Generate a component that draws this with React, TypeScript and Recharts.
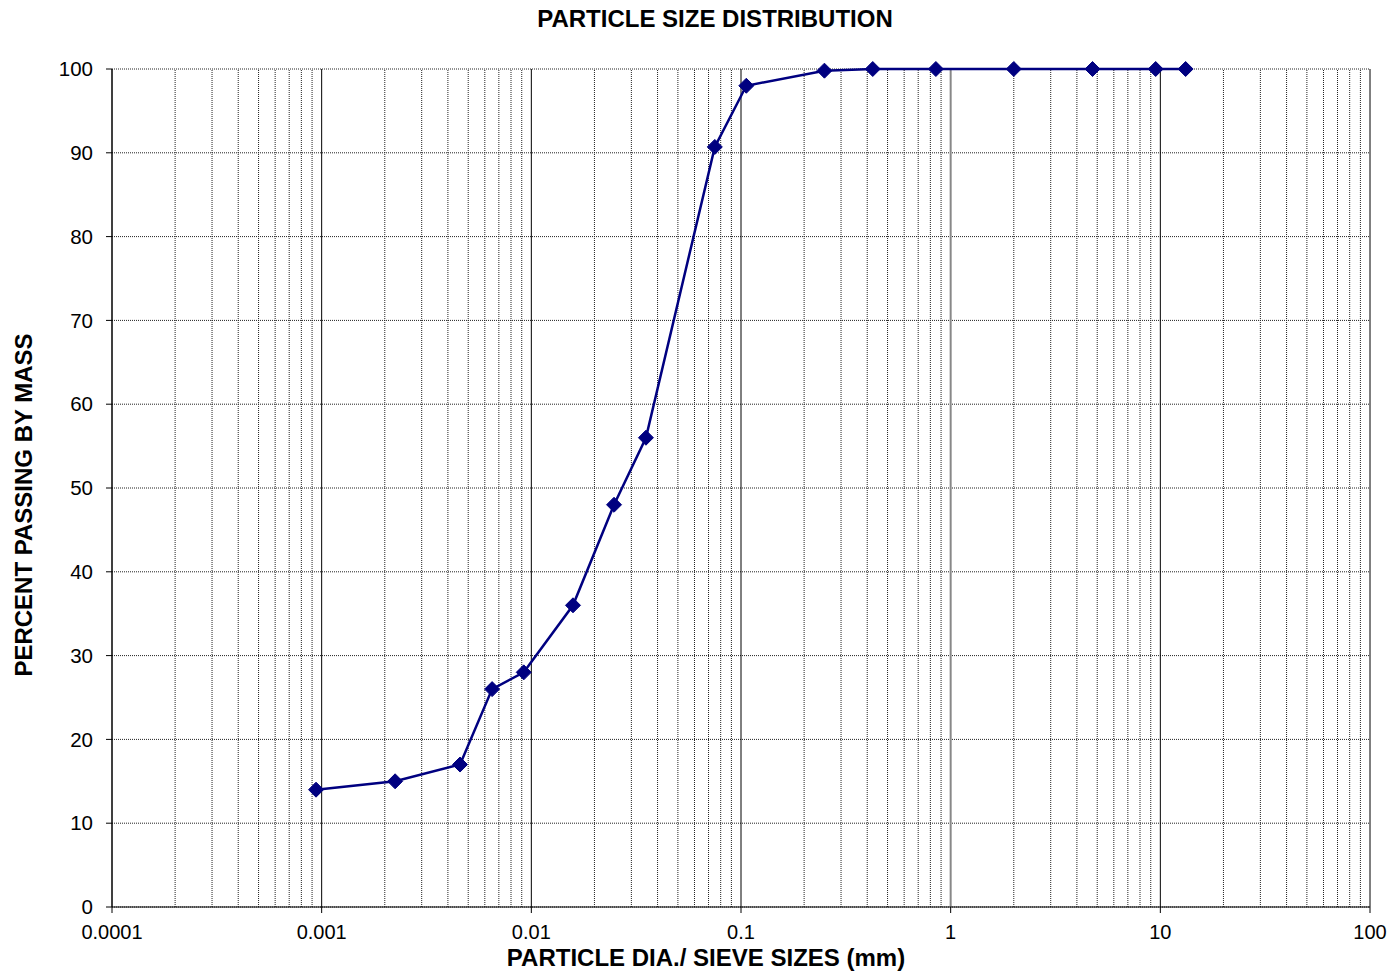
import React from 'react';
import {
  LineChart,
  Line,
  XAxis,
  YAxis,
  CartesianGrid,
  ReferenceLine,
} from 'recharts';

// particle diameter (mm) and percent passing
const sizes = [
  0.00094, 0.00224, 0.00457, 0.0065, 0.0092, 0.0158, 0.0248, 0.0352, 0.075,
  0.106, 0.25, 0.425, 0.85, 2.0, 4.75, 9.5, 13.2,
];
const passing = [14, 15, 17, 26, 28, 36, 48, 56, 90.7, 98, 99.8, 100, 100, 100, 100, 100, 100];

const xTicks = [0.0001, 0.001, 0.01, 0.1, 1, 10, 100];
const yTicks = [0, 10, 20, 30, 40, 50, 60, 70, 80, 90, 100];
const minorMults = [2, 3, 4, 5, 6, 7, 8, 9];

const data = sizes.map((s, i) => ({ size: s, pass: passing[i] }));

const minorLines: number[] = [];
xTicks.slice(0, -1).forEach((d) => minorMults.forEach((m) => minorLines.push(+(d * m).toPrecision(3))));

const fmtX = (v: number) => {
  if (v >= 1) return String(v);
  return v.toFixed(Math.round(-Math.log10(v)));
};

const Diamond = (props: any) => {
  const { cx, cy } = props;
  if (cx == null || cy == null) return null;
  const r = 7.5;
  return (
    <path
      d={`M${cx},${cy - r}L${cx + r},${cy}L${cx},${cy + r}L${cx - r},${cy}Z`}
      fill="#000080"
      stroke="#000080"
    />
  );
};

const font = '"Liberation Sans", Arial, sans-serif';

const titleStyle: React.CSSProperties = {
  position: 'absolute',
  fontWeight: 'bold',
  fontSize: 24,
  lineHeight: '28px',
  textAlign: 'center',
  whiteSpace: 'nowrap',
};

export default function App() {
  return (
    <div style={{ position: 'absolute', left: 0, top: 0, width: 1392, height: 974, background: '#fff', fontFamily: font }}>
      <LineChart width={1392} height={974} data={data} margin={{ top: 69, right: 22, left: 52, bottom: 7 }}>
        <CartesianGrid vertical={false} stroke="#222" strokeDasharray="1 1" />
        {minorLines.map((v) => (
          <ReferenceLine key={'m' + v} x={v} stroke="#222" strokeDasharray="1 1" />
        ))}
        {xTicks.map((v) => (
          <ReferenceLine key={'M' + v} x={v} stroke={v === 1 ? '#888' : '#000'} strokeWidth={v === 1 ? 2 : 1} />
        ))}
        <XAxis
          dataKey="size"
          type="number"
          scale="log"
          domain={[0.0001, 100]}
          ticks={xTicks}
          tickFormatter={fmtX}
          allowDataOverflow
          height={60}
          stroke="#000"
          tickSize={6}
          tick={{ fill: '#000', fontSize: 20, fontFamily: font }}
          tickMargin={12}
        />
        <YAxis
          type="number"
          domain={[0, 100]}
          ticks={yTicks}
          width={60}
          stroke="#000"
          tickSize={6}
          tickMargin={13}
          tick={{ fill: '#000', fontSize: 20.5, fontFamily: font }}
        />
        <Line
          dataKey="pass"
          type="linear"
          stroke="#000080"
          strokeWidth={2.5}
          dot={<Diamond />}
          isAnimationActive={false}
        />
      </LineChart>
      <div style={{ ...titleStyle, top: 5, left: 415, width: 600 }}>PARTICLE SIZE DISTRIBUTION</div>
      <div style={{ ...titleStyle, top: 944, left: 406, width: 600 }}>PARTICLE DIA./ SIEVE SIZES (mm)</div>
      <div
        style={{
          ...titleStyle,
          top: 491,
          left: -276,
          width: 600,
          transform: 'rotate(-90deg)',
        }}
      >
        PERCENT PASSING BY MASS
      </div>
    </div>
  );
}
